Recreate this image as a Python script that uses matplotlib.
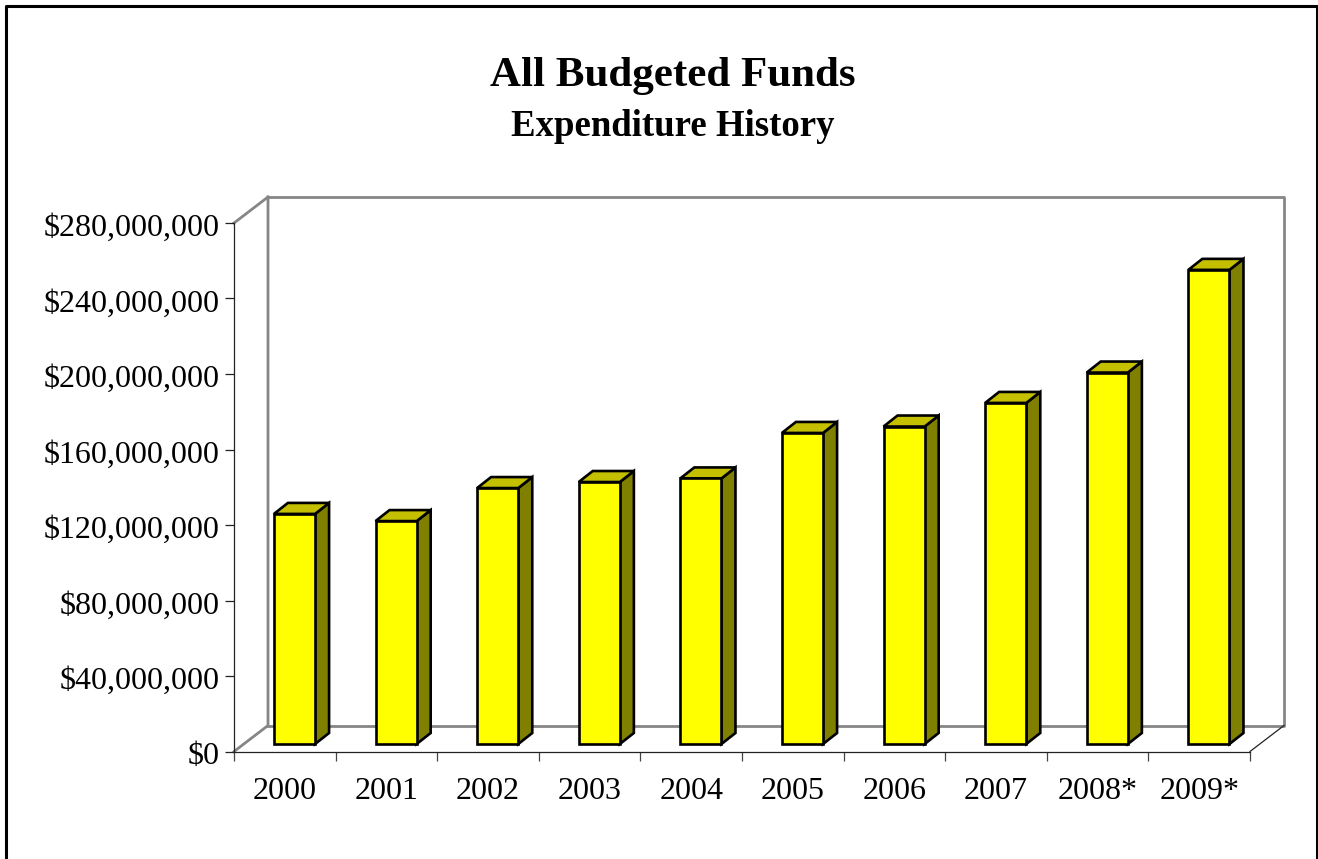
import matplotlib
matplotlib.use("Agg")
import matplotlib.pyplot as plt
from matplotlib.lines import Line2D
from matplotlib.patches import Polygon
from matplotlib.transforms import Affine2D

years = ['2000', '2001', '2002', '2003', '2004', '2005', '2006', '2007', '2008*', '2009*']
spend = [121.9e6, 118.1e6, 135.6e6, 138.8e6, 140.7e6, 164.8e6, 168.2e6, 180.7e6, 196.8e6, 251.2e6]
yticks = [0, 40e6, 80e6, 120e6, 160e6, 200e6, 240e6, 280e6]

W, H = 1318, 859
plt.rcParams['font.family'] = ['Liberation Serif', 'DejaVu Serif']

fig = plt.figure(figsize=(W / 100, H / 100), dpi=100)
ax = fig.add_axes([234 / W, 1 - 751.5 / H, 1016 / W, 528.5 / H])
ax.patch.set_visible(False)
ax.set_xlim(-0.5, 9.5)
ax.set_ylim(0, 280e6)

# depth of the fake 3d, in data units
ppx = 1 / 101.6
ppy = 280e6 / 528.5
wall_dx, wall_dy = 34 * ppx, 26 * ppy
bar_dx, bar_dy = 14 * ppx, 11 * ppy
off_x, off_y = 9.7 * ppx, 7.5 * ppy
bar_w = 0.405

# back wall and floor
gray = '#868686'
x0, x1, y1 = -0.5, 9.5, 280e6
ax.plot([x0, x0 + wall_dx, x0 + wall_dx], [0, wall_dy, y1 + wall_dy], color=gray, lw=2, clip_on=False, zorder=1)
ax.plot([x0 + wall_dx, x1 + wall_dx, x1 + wall_dx, x0 + wall_dx], [y1 + wall_dy, y1 + wall_dy, wall_dy, wall_dy], color=gray, lw=2, clip_on=False, zorder=1)
ax.plot([x0, x0 + wall_dx], [y1, y1 + wall_dy], color=gray, lw=2, clip_on=False, zorder=1)
ax.plot([x1, x1 + wall_dx], [0, wall_dy], color='#222222', lw=0.9, clip_on=False, zorder=1)

# bars: front, then side and top faces
for i, v in enumerate(spend):
    left = i + off_x - bar_w / 2
    right = left + bar_w
    top = v + off_y
    ax.add_patch(Polygon([(right, off_y), (right + bar_dx, off_y + bar_dy), (right + bar_dx, top + bar_dy), (right, top)],
                         facecolor='#808000', edgecolor='black', lw=1.9, clip_on=False, zorder=2))
    ax.add_patch(Polygon([(left, top), (left + bar_dx, top + bar_dy), (right + bar_dx, top + bar_dy), (right, top)],
                         facecolor='#C4C000', edgecolor='black', lw=1.9, clip_on=False, zorder=2))
ax.bar([i + off_x for i in range(len(spend))], spend, width=bar_w, bottom=off_y,
       color='#FFFF00', edgecolor='black', lw=1.9, clip_on=False, zorder=3)

for s in ['top', 'right']:
    ax.spines[s].set_visible(False)
for s in ['left', 'bottom']:
    ax.spines[s].set_linewidth(0.9)
    ax.spines[s].set_color('#222222')

ax.set_yticks(yticks)
ax.set_yticklabels(['${:,.0f}'.format(t) for t in yticks], fontsize=23)
ax.tick_params(axis='y', length=6.5, width=0.9, pad=4, color='#222222')
for lab in ax.get_yticklabels():
    lab.set_transform(lab.get_transform() + Affine2D().translate(0, -2))

ax.set_xticks([i - 0.5 for i in range(len(years) + 1)])
ax.set_xticklabels([])
ax.set_xticks(range(len(years)), minor=True)
ax.set_xticklabels(years, minor=True, fontsize=23)
ax.tick_params(axis='x', which='major', length=6.5, width=0.9, color='#444444')
ax.tick_params(axis='x', which='minor', length=0, pad=18.5)

fig.text(673 / W, 1 - 76 / H, 'All Budgeted Funds', ha='center', va='center', fontsize=31, fontweight='bold')
fig.text(673 / W, 1 - 126 / H, 'Expenditure History', ha='center', va='center', fontsize=26.5, fontweight='bold')

# outer border, open at the bottom
fig.add_artist(Line2D([6 / W, 6 / W, 1316.5 / W, 1316.5 / W], [0, 1 - 6 / H, 1 - 6 / H, 0], color='black', lw=2.2))

fig.savefig('out.png', dpi=100)
